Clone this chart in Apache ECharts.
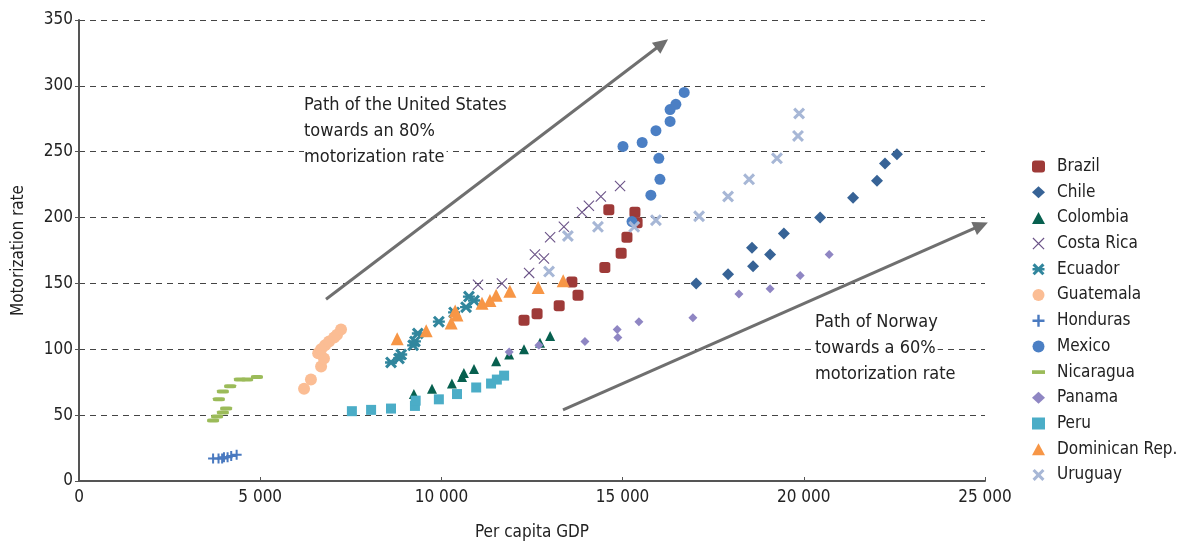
<!DOCTYPE html>
<html lang="en">
<head>
  <meta charset="UTF-8">
  <script src="https://cdn.jsdelivr.net/npm/echarts@6/dist/echarts.min.js"></script>
  <style>
    body { margin: 0; background: #ffffff; }
    #main { width: 1183px; height: 543px; }
  </style>
</head>
<body>
  <div id="main"></div>
  <script>
    // [per capita GDP, motorization rate]
    var brazil = [[12280,122],[12640,127],[13250,133],[13600,151],[13770,141],[14510,162],[14960,173],[15120,185],[14620,206],[15340,204],[15400,196]];
    var chile = [[17030,150],[17910,157],[18570,177],[18600,163],[19070,172],[19450,188],[20450,200],[21360,215],[22020,228],[22240,241],[22570,248]];
    var colombia = [[9240,66],[9740,70],[10290,74],[10570,79],[10620,82],[10900,85],[11510,91],[11870,96],[12280,100],[12720,105],[13000,110]];
    var costaRica = [[11010,149],[11670,150],[12420,158],[12580,172],[12830,169],[13000,185],[13380,193],[13880,204],[14070,209],[14400,216],[14930,224]];
    var ecuador = [[8610,90],[8830,93],[8890,96],[9220,103],[9270,106],[9350,112],[9930,121],[10350,128],[10680,132],[10760,140],[10900,137]];
    var guatemala = [[6210,70],[6400,77],[6680,87],[6760,93],[6600,97],[6680,100],[6790,103],[6900,106],[7040,109],[7120,111],[7230,115]];
    var honduras = [[3700,17],[3850,17],[3950,17],[4000,18],[4100,18],[4200,19],[4350,20]];
    var mexico = [[15260,197],[15780,217],[16030,229],[16000,245],[15010,254],[15540,257],[15920,266],[16310,273],[16310,282],[16470,286],[16700,295]];
    var nicaragua = [[3700,46],[3810,49],[3970,52],[4060,55],[3860,62],[3970,68],[4170,72],[4440,77],[4640,77],[4910,79]];
    var panama = [[11870,98],[12690,103],[13960,106],[14850,115],[14870,109],[15450,121],[16940,124],[18210,142],[19070,146],[19900,156],[20700,172]];
    var peru = [[7530,53],[8060,54],[8610,55],[9270,57],[9290,61],[9930,62],[10430,66],[10960,71],[11370,74],[11530,77],[11730,80]];
    var dominicanRep = [[8780,108],[9580,114],[10270,120],[10380,129],[10430,126],[11120,135],[11340,137],[11510,141],[11890,144],[12670,147],[13360,152]];
    var uruguay = [[12970,159],[13490,186],[14320,193],[15320,193],[15920,198],[17110,201],[17910,216],[18490,229],[19260,245],[19840,262],[19870,279]];

    var countries = ['Brazil','Chile','Colombia','Costa Rica','Ecuador','Guatemala','Honduras','Mexico','Nicaragua','Panama','Peru','Dominican Rep.','Uruguay'];
    var yTicks = [0, 50, 100, 150, 200, 250, 300, 350];

    var FONT = "'Liberation Sans Narrow', 'DejaVu Sans Condensed', 'Roboto', sans-serif";

    var thinX = 'path://M0,0.7 L0.7,0 L10,9.3 L9.3,10 Z M9.3,0 L10,0.7 L0.7,10 L0,9.3 Z';
    var thickX = 'path://M0,1.8 L1.8,0 L10,8.2 L8.2,10 Z M8.2,0 L10,1.8 L1.8,10 L0,8.2 Z';
    var plus = 'path://M4,0 H6 V4 H10 V6 H6 V10 H4 V6 H0 V4 H4 Z';
    var star = 'path://M0,1.8 L1.8,0 L10,8.2 L8.2,10 Z M8.2,0 L10,1.8 L1.8,10 L0,8.2 Z M0,4 H10 V6 H0 Z';

    function sc(name, data, symbol, size, color) {
      return {
        name: name, type: 'scatter', data: data,
        symbol: symbol, symbolSize: size,
        itemStyle: { color: color, opacity: 1 },
        z: 3
      };
    }

    var chart = echarts.init(document.getElementById('main'));

    // annotation text, one element per line so the grid shows between lines
    function textLines(lines, left, top) {
      return lines.map(function (t, i) {
        return {
          type: 'text', left: left, top: top + i * 26, z: 50,
          style: { text: t, font: '18px ' + FONT, fill: '#222', backgroundColor: '#fff', padding: [2, 2, 2, 0] }
        };
      });
    }

    var option = {
      animation: false,
      grid: { left: 79, right: 198, top: 20, bottom: 62, outerBoundsMode: 'none' },
      xAxis: {
        type: 'value', min: 0, max: 25000, interval: 5000,
        name: 'Per capita GDP', nameLocation: 'middle', nameGap: 43,
        nameTextStyle: { fontFamily: FONT, fontSize: 17, color: '#222' },
        axisLine: { lineStyle: { color: '#555', width: 2 } },
        axisTick: { show: true, inside: true, length: 4, lineStyle: { color: '#555' } },
        axisLabel: {
          fontFamily: FONT, fontSize: 17, color: '#222', margin: 8,
          formatter: function (v) { return v >= 1000 ? Math.floor(v / 1000) + ' ' + String(v % 1000).padStart(3, '0') : String(v); }
        },
        splitLine: { show: false }
      },
      yAxis: {
        type: 'value', min: 0, max: 350, interval: 50,
        name: 'Motorization rate', nameLocation: 'middle', nameGap: 52,
        nameTextStyle: { fontFamily: FONT, fontSize: 17, color: '#222' },
        axisLine: { show: true, lineStyle: { color: '#555', width: 2 } },
        axisTick: { show: true, length: 4, lineStyle: { color: '#555' } },
        axisLabel: {
          fontFamily: FONT, fontSize: 17, color: '#222', margin: 6,
          formatter: function (v) { return yTicks.indexOf(v) >= 0 ? String(v) : ''; }
        },
        splitLine: { show: true, lineStyle: { color: '#444', type: [6, 5], width: 1 } }
      },
      legend: {
        orient: 'vertical', left: 1027, top: 153,
        itemWidth: 13, itemHeight: 12, itemGap: 8.7,
        textStyle: { fontFamily: FONT, fontSize: 17, color: '#222', padding: [0, 0, 0, 7] },
        data: countries.map(function (c) {
          if (c === 'Nicaragua') return { name: c, icon: 'path://M0,4 H14 V8 H0 Z' };
          return { name: c };
        })
      },
      graphic: textLines(['Path of the United States', 'towards an 80%', 'motorization rate'], 304, 94)
        .concat(textLines(['Path of Norway', 'towards a 60%', 'motorization rate'], 815, 311)),
      series: [
        sc('Brazil', brazil, 'roundRect', 11, '#9E3A38'),
        sc('Chile', chile, 'diamond', 12, '#376396'),
        sc('Colombia', colombia, 'triangle', 10, '#07604F'),
        sc('Costa Rica', costaRica, thinX, 11, '#6A5287'),
        sc('Ecuador', ecuador, star, 12, '#31869D'),
        sc('Guatemala', guatemala, 'circle', 12, '#FBBD94'),
        sc('Honduras', honduras, plus, 10, '#4A7AC0'),
        sc('Mexico', mexico, 'circle', 11, '#4B7FC4'),
        sc('Nicaragua', nicaragua, 'roundRect', [12, 4], '#9BBB59'),
        sc('Panama', panama, 'diamond', 9, '#8F86C3'),
        sc('Peru', peru, 'rect', 10, '#4BADC7'),
        sc('Dominican Rep.', dominicanRep, 'triangle', 13, '#F79646'),
        sc('Uruguay', uruguay, thickX, 12, '#A7B7D6'),
        {
          name: 'paths', type: 'scatter', data: [], silent: true,
          markLine: {
            silent: true, animation: false,
            symbol: ['none', 'triangle'], symbolSize: [14, 15],
            lineStyle: { color: '#6F6F6F', width: 3, type: 'solid' },
            label: { show: false },
            data: [
              [{ coord: [6816, 138] }, { coord: [16090, 332] }],
              [{ coord: [13355, 54] }, { coord: [24890, 194] }]
            ]
          }
        }
      ]
    };

    chart.setOption(option);
  </script>
</body>
</html>
